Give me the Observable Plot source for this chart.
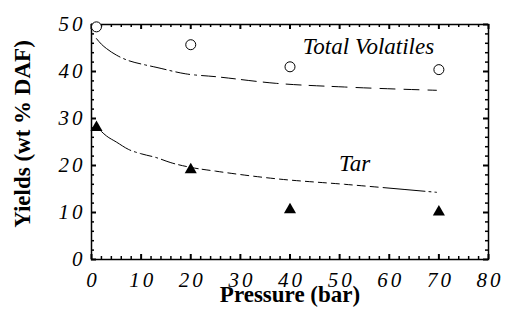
<!DOCTYPE html>
<html>
<head>
<meta charset="utf-8">
<script src="https://cdn.jsdelivr.net/npm/d3@7"></script>
<script src="https://cdn.jsdelivr.net/npm/@observablehq/plot@0.6"></script>
<style>
  html, body { margin: 0; padding: 0; background: #fff; }
  svg { display: block; }
</style>
</head>
<body>
<div id="chart"></div>
<script>
// Measured data (Pressure in bar, yields in wt % DAF)
const pressure = [1, 20, 40, 70];
const totalVolatiles = [49.5, 45.7, 41.0, 40.4];
const tar = [28.1, 19.1, 10.6, 10.1];

// Fitted curves
const fitPressureTV = [1, 2, 3, 5, 7.5, 10, 13, 19, 25, 37, 51, 69.5];
const fitTV = [47.0, 45.8, 44.9, 43.5, 42.3, 41.6, 40.9, 39.5, 38.9, 37.5, 36.7, 36.0];
const fitPressureTar = [1, 3, 5, 7.5, 10, 13, 16, 20, 25, 37, 51, 69.5];
const fitTar = [28.3, 26.3, 25.0, 23.4, 22.5, 21.7, 20.6, 19.6, 18.8, 17.2, 16.0, 14.3];

// Axis ticks
const xMajor = [0, 10, 20, 30, 40, 50, 60, 70, 80];
const xMinor = d3.range(0, 81, 2).filter(v => v % 10 !== 0);
const yMajor = [0, 10, 20, 30, 40, 50];
const yMinor = d3.range(0, 51, 2).filter(v => v % 10 !== 0);

const tvPoints = pressure.map((p, i) => ({p, v: totalVolatiles[i]}));
const tarPoints = pressure.map((p, i) => ({p, v: tar[i]}));
const tvFit = fitPressureTV.map((p, i) => ({p, v: fitTV[i]}));
const tarFit = fitPressureTar.map((p, i) => ({p, v: fitTar[i]}));

const W = 511, H = 326;
const mL = 91, mR = 23, mT = 24, mB = 67;
const fw = W - mL - mR, fh = H - mT - mB;
const FONT = "Liberation Serif, Times New Roman, serif";

const tvDash = "30,4,2,4,12,4,2,4,16,4,2,4,14,5,2,5,14,6,14,6,15,7,15,8,15,8,15,8,15,9,15,9,15,9,15,9,15,9,15,9,15,9";
const tarDash = "42,4,2,4,12,4,2,4,14,4,8,4,8,4,8,5,8,5,8,5,8,5,8,5,8,5,8,5,8,5,8,5,8,5,8,5,8,5,8,5,8,5";

const chart = Plot.plot({
  width: W,
  height: H,
  marginLeft: mL,
  marginRight: mR,
  marginTop: mT,
  marginBottom: mB,
  style: {fontFamily: FONT, fontSize: "21px", fontStyle: "italic", color: "black", background: "white"},
  x: {domain: [0, 80], ticks: xMajor, tickSize: 0, tickPadding: 13, label: null},
  y: {domain: [0, 50], ticks: yMajor, tickSize: 0, tickPadding: 6, label: null},
  marks: [
    Plot.frame({stroke: "black", strokeWidth: 1.5}),
    // inward ticks: bottom & top
    Plot.tickX(xMajor, {x: d => d, insetTop: fh - 5, stroke: "black", strokeWidth: 2}),
    Plot.tickX(xMajor, {x: d => d, insetBottom: fh - 5, stroke: "black", strokeWidth: 2}),
    Plot.tickX(xMinor, {x: d => d, insetTop: fh - 3, stroke: "black", strokeWidth: 1.5}),
    Plot.tickX(xMinor, {x: d => d, insetBottom: fh - 3, stroke: "black", strokeWidth: 1.5}),
    // inward ticks: left & right
    Plot.tickY(yMajor, {y: d => d, insetRight: fw - 5, stroke: "black", strokeWidth: 2}),
    Plot.tickY(yMajor, {y: d => d, insetLeft: fw - 5, stroke: "black", strokeWidth: 2}),
    Plot.tickY(yMinor, {y: d => d, insetRight: fw - 3, stroke: "black", strokeWidth: 1.5}),
    Plot.tickY(yMinor, {y: d => d, insetLeft: fw - 3, stroke: "black", strokeWidth: 1.5}),
    // fitted curves
    Plot.line(tvFit, {x: "p", y: "v", curve: "monotone-x", stroke: "black", strokeWidth: 1, strokeDasharray: tvDash}),
    Plot.line(tarFit, {x: "p", y: "v", curve: "monotone-x", stroke: "black", strokeWidth: 1, strokeDasharray: tarDash}),
    // measured points
    Plot.dot(tvPoints, {x: "p", y: "v", r: 5, stroke: "black", strokeWidth: 1, fill: "white"}),
    Plot.dot(tarPoints, {x: "p", y: "v", r: 4.5, symbol: "triangle", fill: "black", stroke: "none"}),
    // annotations
    Plot.text(["Total Volatiles"], {x: 55.8, y: 43.8, text: d => d, fontFamily: FONT, fontSize: 23, fontStyle: "italic", lineAnchor: "bottom", textAnchor: "middle"}),
    Plot.text(["Tar"], {x: 53, y: 18.9, text: d => d, fontFamily: FONT, fontSize: 23, fontStyle: "italic", lineAnchor: "bottom", textAnchor: "middle"}),
    // axis titles
    Plot.text(["Pressure (bar)"], {frameAnchor: "bottom", dy: 42, text: d => d, fontFamily: FONT, fontSize: 23, fontWeight: "bold", fontStyle: "normal", textAnchor: "middle"}),
    Plot.text(["Yields (wt % DAF)"], {frameAnchor: "left", dx: -69, dy: -8, rotate: -90, text: d => d, fontFamily: FONT, fontSize: 23, fontWeight: "bold", fontStyle: "normal", textAnchor: "middle"})
  ]
});
// widen axis tick labels like the reference
d3.select(chart).selectAll("g[aria-label$='tick label'] text")
  .attr("letter-spacing", 3);
d3.select(chart).selectAll("g[aria-label='x-axis tick label'] text")
  .attr("dx", 1.5);
document.getElementById("chart").appendChild(chart);
</script>
</body>
</html>
